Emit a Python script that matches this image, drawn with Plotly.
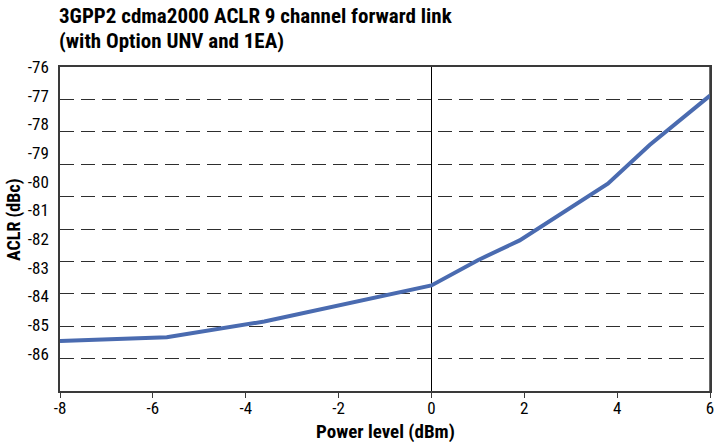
import plotly.graph_objects as go

# Data
power_dbm = [-8, -6.2, -5.7, -3.6, -2, 0, 1.0, 1.9, 3.8, 4.7, 6]
aclr_dbc = [-85.56, -85.48, -85.43, -84.88, -84.33, -83.62, -82.74, -82.05, -80.07, -78.72, -77.0]

x_ticks = [-8, -6, -4, -2, 0, 2, 4, 6]
y_ticks = [-76, -77, -78, -79, -80, -81, -82, -83, -84, -85, -86]

title_lines = ["3GPP2 cdma2000 ACLR 9 channel forward link", "(with Option UNV and 1EA)"]
x_title = "Power level (dBm)"
y_title = "ACLR (dBc)"

FONT = "Roboto Condensed, DejaVu Sans Condensed, Roboto, sans-serif"
LINE_COL = "#4a6bb0"
FRAME = "#3a3a3a"

W, H = 714, 442
L, R, T, B = 60, 4, 67, 51
PW, PH = W - L - R, H - T - B

fig = go.Figure()
# empty trace keeps the grid-axis subplot alive
fig.add_trace(go.Scatter(x=[], y=[], yaxis="y", showlegend=False, hoverinfo="skip"))
fig.add_trace(go.Scatter(
    x=power_dbm, y=aclr_dbc, mode="lines",
    line=dict(color=LINE_COL, width=4),
    yaxis="y2", showlegend=False, hoverinfo="x+y",
))

fig.update_layout(
    width=W, height=H,
    margin=dict(l=L, r=R, t=T, b=B, autoexpand=False),
    paper_bgcolor="white", plot_bgcolor="white",
    font=dict(family=FONT, size=17, color="black"),
    xaxis=dict(
        range=[-8, 6], tickvals=x_ticks, ticktext=[str(v) for v in x_ticks],
        ticks="outside", ticklen=5, tickwidth=1.2, tickcolor=FRAME,
        ticklabelstandoff=-4, ticklabeloverflow="allow",
        showline=True, linecolor=FRAME, linewidth=1.5, mirror=True,
        showgrid=False, zeroline=True, zerolinecolor="black", zerolinewidth=1.2,
        tickfont=dict(size=17), automargin=False,
        fixedrange=True,
    ),
    # grid axis (dashed lines and frame)
    yaxis=dict(
        range=[-86, -76], dtick=1, tick0=-76,
        showticklabels=False, ticks="",
        showline=True, linecolor=FRAME, linewidth=1.5, mirror=True,
        showgrid=True, gridcolor="#2e2e2e", gridwidth=1.2, griddash="14px,7px",
        zeroline=False, fixedrange=True, automargin=False,
    ),
    # label axis (tick labels and data)
    yaxis2=dict(
        overlaying="y", side="left", anchor="x",
        range=[-87.305, -76], tickvals=y_ticks, ticktext=[str(v) for v in y_ticks],
        showgrid=False, zeroline=False,
        showline=True, linecolor=FRAME, linewidth=1.5, mirror=True,
        ticks="outside", ticklen=6, tickcolor="rgba(0,0,0,0)",
        tickfont=dict(size=17), automargin=False,
        fixedrange=True,
    ),
)

# right-hand frame edge of the plot area
fig.add_shape(
    type="line", xref="paper", yref="paper", x0=1, x1=1, y0=0, y1=1,
    line=dict(color=FRAME, width=1.5), layer="below",
)

# title (two lines)
for i, (line, yc) in enumerate(zip(title_lines, [16, 41.5])):
    fig.add_annotation(
        text=f"<b>{line}</b>", xref="paper", yref="paper",
        x=(57 - L) / PW, y=1 + (T - yc) / PH,
        xanchor="left", yanchor="middle", showarrow=False,
        font=dict(family=FONT, size=21, color="black"),
    )
# axis titles
fig.add_annotation(
    text=f"<b>{x_title}</b>", xref="paper", yref="paper",
    x=0.5, y=-(431 - (H - B)) / PH, xanchor="center", yanchor="middle",
    showarrow=False, font=dict(family=FONT, size=19, color="black"),
)
fig.add_annotation(
    text=f"<b>{y_title}</b>", xref="paper", yref="paper",
    x=-(L - 14) / PW, y=1 - (220 - T) / PH, xanchor="center", yanchor="middle",
    textangle=-90, showarrow=False, font=dict(family=FONT, size=18, color="black"),
)

fig.write_html(
    "out.html",
    config={"displayModeBar": False},
    post_script="document.body.style.margin='0';",
)
